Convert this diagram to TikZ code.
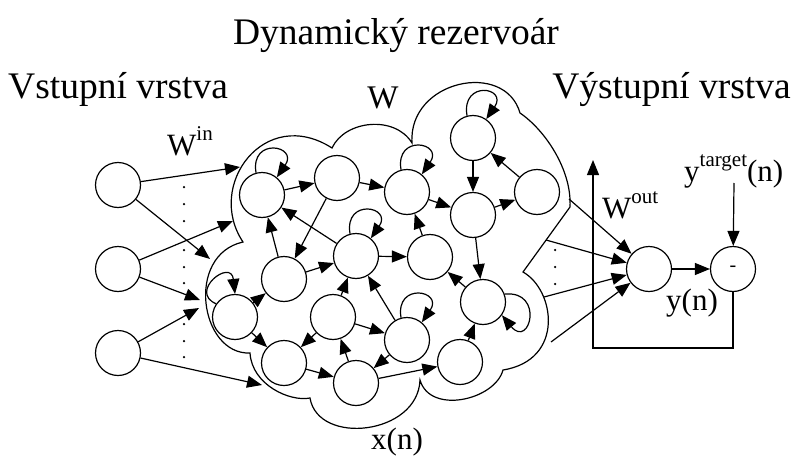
\documentclass[tikz,border=0pt]{standalone}
\usepackage{fontspec}
\setmainfont{Liberation Serif}
\usetikzlibrary{arrows.meta}
\newcommand\sups[1]{\raisebox{15pt}{\fontsize{21}{21}\selectfont #1}}
\begin{document}
\begin{tikzpicture}[x=1pt,y=-1pt,
  nd/.style={circle,draw,line width=1.2pt,minimum size=45pt,inner sep=0pt},
  arr/.style={-{Triangle[length=15pt,width=12pt]},line width=1.2pt},
  ln/.style={line width=1.2pt},
  lbl/.style={font=\fontsize{31}{31}\selectfont,inner sep=0pt},
  ttl/.style={font=\fontsize{37.5}{37.5}\selectfont,inner sep=0pt},
  dot/.style={circle,fill,inner sep=0pt,minimum size=2.5pt}]
\useasboundingbox (0,0) rectangle (795,463);

% cloud
\draw[ln] (243,242) .. controls (205,185) and (265,105) .. (332,148)
 .. controls (345,120) and (395,115) .. (412,143)
 .. controls (408,80) and (505,60) .. (520,113)
 .. controls (545,130) and (572,170) .. (570,207)
 -- (523,272)
 .. controls (555,290) and (565,360) .. (503,370)
 .. controls (495,400) and (430,415) .. (420,380)
 .. controls (418,435) and (318,446) .. (310,398)
 .. controls (290,402) and (252,385) .. (250,353)
 .. controls (200,355) and (185,255) .. cycle;

% input nodes
\node[nd] (i1) at (118,185) {};
\node[nd] (i2) at (118,269) {};
\node[nd] (i3) at (118,353) {};

% reservoir nodes
\node[nd] (A) at (262,195) {};
\node[nd] (B) at (337,178) {};
\node[nd] (P) at (407,192) {};
\node[nd] (O) at (473,138) {};
\node[nd] (R) at (537,192) {};
\node[nd] (Q) at (473,215) {};
\node[nd] (D) at (284,279) {};
\node[nd] (C) at (356,256) {};
\node[nd] (I) at (430,257) {};
\node[nd] (E) at (235,317) {};
\node[nd] (F) at (333,317) {};
\node[nd] (K) at (407,340) {};
\node[nd] (M) at (483,302) {};
\node[nd] (G) at (284,363) {};
\node[nd] (H) at (356,383) {};
\node[nd] (L) at (460,362) {};

% output nodes
\node[nd] (Y) at (649,269) {};
\node[nd,font=\fontsize{20}{20}\selectfont] (S) at (733,269) {-};

% self loops
\draw[arr] (A.105) .. controls +(-6,-36) and +(22,-32) .. (A.50);
\draw[arr] (C.105) .. controls +(-6,-36) and +(22,-32) .. (C.50);
\draw[arr] (P.105) .. controls +(-6,-36) and +(22,-32) .. (P.50);
\draw[arr] (O.105) .. controls +(-6,-36) and +(22,-32) .. (O.55);
\draw[arr] (K.105) .. controls +(-6,-36) and +(22,-32) .. (K.50);
\draw[arr] (E.145) .. controls +(-28,-12) and +(-4,-36) .. (E.90);
\draw[arr] (M.20) .. controls +(40,-4) and +(28,34) .. (M.-35);

% reservoir edges
\foreach \a/\b in {A/B,B/D,C/A,D/A,D/C,C/I,B/P,P/Q,O/Q,R/O,Q/R,E/D,E/G,F/G,G/H,F/C,H/F,F/K,K/H,K/C,H/L,L/M,M/I,Q/M,I/P}
  \draw[arr] (\a) -- (\b);

% input edges
\coordinate (t1) at (240,167);
\coordinate (t2) at (210,259);
\coordinate (t3) at (233,221);
\coordinate (t4) at (200,300);
\coordinate (t5) at (199,308);
\coordinate (t6) at (262,385);
\draw[arr] (i1) -- (t1);
\draw[arr] (i1) -- (t2);
\draw[arr] (i2) -- (t3);
\draw[arr] (i2) -- (t4);
\draw[arr] (i3) -- (t5);
\draw[arr] (i3) -- (t6);

% dots
\foreach \yy in {187,204,221,250,267,283,324,341,357}
  \node[dot] at (184,\yy) {};
\foreach \yy in {250,267,284}
  \node[dot] at (555,\yy) {};

% output edges
\coordinate (o1) at (569,199);
\coordinate (o2) at (546,240);
\coordinate (o3) at (544,297);
\coordinate (o4) at (551,342);
\foreach \o in {o1,o2,o3,o4}
  \draw[arr] (\o) -- (Y);

\draw[arr] (Y) -- (S);
\coordinate (yt) at (734,183);
\draw[arr] (yt) -- (S);
\coordinate (fbc) at (593,348);
\coordinate (fb) at (593,160);
\draw[arr] (S.south) |- (fbc) -- (fb);

% labels
\node[ttl,anchor=base] (title) at (396,44) {Dynamický rezervoár};
\node[ttl,anchor=base west] (lin) at (8,98) {Vstupní vrstva};
\node[ttl,anchor=base east] (lout) at (791,98) {Výstupní vrstva};
\node[lbl,font=\fontsize{33}{33}\selectfont,anchor=base] (w) at (383,108) {W};
\node[lbl,anchor=base west] (win) at (167,155) {W\sups{in}};
\node[lbl,anchor=base west] (wout) at (602,218) {W\sups{out}};
\node[lbl,anchor=base west] (ytg) at (684,181) {y\sups{target}(n)};
\node[lbl,anchor=base west] (yn) at (666,310) {y(n)};
\node[lbl,anchor=base] (xn) at (397,449) {x(n)};
\end{tikzpicture}
\end{document}
